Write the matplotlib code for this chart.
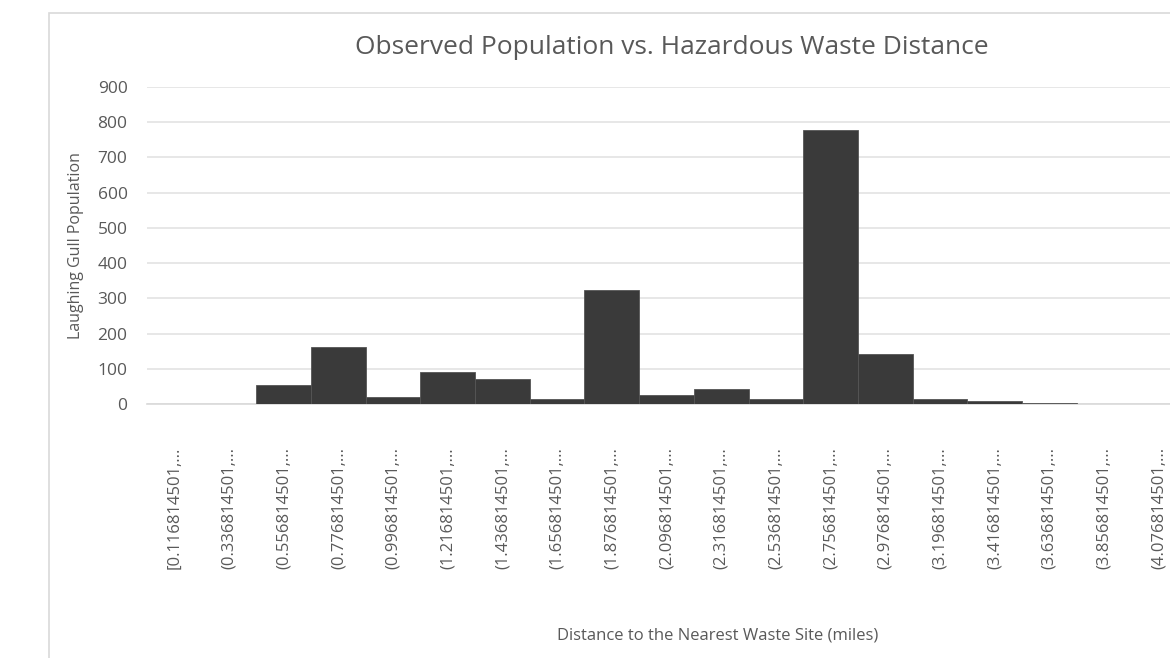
import matplotlib.pyplot as plt
from matplotlib.patches import Rectangle

# histogram bins (lower edge of each interval) and counts
bin_labels = ['[0.116814501,...', '(0.336814501,...', '(0.556814501,...', '(0.776814501,...',
              '(0.996814501,...', '(1.216814501,...', '(1.436814501,...', '(1.656814501,...',
              '(1.876814501,...', '(2.096814501,...', '(2.316814501,...', '(2.536814501,...',
              '(2.756814501,...', '(2.976814501,...', '(3.196814501,...', '(3.416814501,...',
              '(3.636814501,...', '(3.856814501,...', '(4.076814501,...']
population = [0, 0, 54, 163, 19, 90, 70, 13, 324, 26, 42, 13, 778, 141, 13, 8, 3, 0, 0]

W, H = 1170, 658
fig = plt.figure(figsize=(W / 100, H / 100), dpi=100)
plt.rcParams['font.family'] = ['Open Sans', 'DejaVu Sans']

# chart frame
fig.patches.append(Rectangle((49 / W, -0.1), 1.2, 1 - 13 / H + 0.1, transform=fig.transFigure,
                             fill=False, edgecolor='#d9d9d9', linewidth=1.2))

left, right, top, bottom = 147, 1186, 87, 404
ax = fig.add_axes([left / W, 1 - bottom / H, (right - left) / W, (bottom - top) / H])

x = list(range(len(population)))
ax.bar(x, population, width=1.0, color='#3a3a3a', edgecolor='#555555', linewidth=0.6, zorder=3)

ax.set_xlim(-0.5, len(population) - 0.5)
ax.set_ylim(0, 900)
ax.set_yticks(range(0, 1000, 100))
ax.grid(axis='y', color='#e3e3e3', linewidth=1.2, zorder=0)
ax.set_xticks(x)
ax.set_xticklabels(bin_labels, rotation=90, fontsize=12, color='#595959')
ax.tick_params(axis='x', length=0, pad=31)
ax.tick_params(axis='y', length=0, pad=14, labelsize=12.5, labelcolor='#595959')
for s in ['top', 'right', 'left']:
    ax.spines[s].set_visible(False)
ax.spines['bottom'].set_color('#d9d9d9')
ax.spines['bottom'].set_linewidth(1.2)

ax.set_ylabel('Laughing Gull Population', fontsize=11.5, color='#595959', labelpad=10)
fig.text(718 / W, 1 - 636 / H, 'Distance to the Nearest Waste Site (miles)', ha='center', va='center',
         fontsize=12, color='#595959')
fig.text(672 / W, 1 - 47 / H, 'Observed Population vs. Hazardous Waste Distance', ha='center', va='center',
         fontsize=19, color='#595959')

fig.savefig('out.png', dpi=100)
